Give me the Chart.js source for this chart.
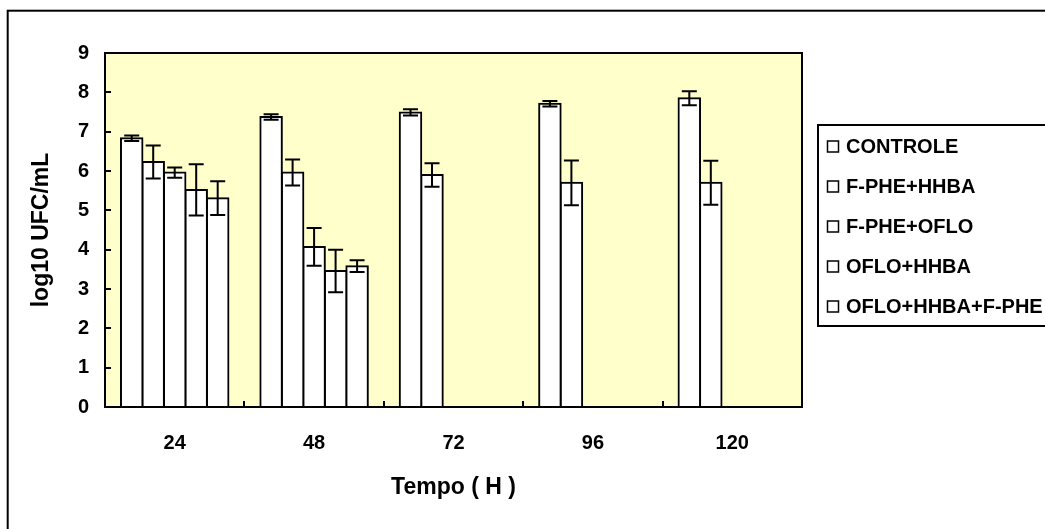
<!DOCTYPE html>
<html>
<head>
<meta charset="utf-8">
<script src="https://cdn.jsdelivr.net/npm/chart.js@4.4.1/dist/chart.umd.min.js"></script>
<style>
  body { margin: 0; background: #fff; }
</style>
</head>
<body>
<canvas id="grafico" width="1045" height="529"></canvas>
<script>
// dados (log10 UFC/mL)
const tempos = ['24', '48', '72', '96', '120'];

const controle     = [6.83, 7.37, 7.49, 7.71, 7.85];
const controleErro = [0.07, 0.07, 0.08, 0.07, 0.18];

const fpheHhba     = [6.23, 5.96, 5.90, 5.70, 5.70];
const fpheHhbaErro = [0.42, 0.33, 0.30, 0.57, 0.56];

const fpheOflo     = [5.96, 4.07, null, null, null];
const fpheOfloErro = [0.13, 0.48, null, null, null];

const ofloHhba     = [5.52, 3.46, null, null, null];
const ofloHhbaErro = [0.65, 0.54, null, null, null];

const ofloHhbaFphe     = [5.31, 3.58, null, null, null];
const ofloHhbaFpheErro = [0.43, 0.15, null, null, null];

const nomes = ['CONTROLE', 'F-PHE+HHBA', 'F-PHE+OFLO', 'OFLO+HHBA', 'OFLO+HHBA+F-PHE'];
const valores = [controle, fpheHhba, fpheOflo, ofloHhba, ofloHhbaFphe];
const erros = [controleErro, fpheHhbaErro, fpheOfloErro, ofloHhbaErro, ofloHhbaFpheErro];

const fonte = "'Liberation Sans', Arial, sans-serif";

// fundo branco, moldura externa e area amarela
const fundo = {
  id: 'fundo',
  beforeDraw(chart) {
    const ctx = chart.ctx, a = chart.chartArea;
    ctx.save();
    ctx.fillStyle = '#FFFFFF';
    ctx.fillRect(0, 0, chart.width, chart.height);
    ctx.strokeStyle = '#000';
    ctx.lineWidth = 2;
    ctx.strokeRect(7.7, 10.7, 2000, 2000);
    ctx.fillStyle = '#FFFFCC';
    ctx.fillRect(a.left, a.top, a.right - a.left, a.bottom - a.top);
    ctx.restore();
  }
};

// barras de erro + contorno da area
const barrasErro = {
  id: 'barrasErro',
  afterDatasetsDraw(chart) {
    const ctx = chart.ctx, y = chart.scales.y, a = chart.chartArea;
    ctx.save();
    ctx.strokeStyle = '#000';
    ctx.lineWidth = 2;
    erros.forEach((erro, i) => {
      const meta = chart.getDatasetMeta(i);
      erro.forEach((e, j) => {
        const v = valores[i][j];
        if (v == null || e == null) return;
        const x = meta.data[j].x;
        const y1 = y.getPixelForValue(v + e);
        const y2 = y.getPixelForValue(v - e);
        ctx.beginPath();
        ctx.moveTo(x, y1); ctx.lineTo(x, y2);
        ctx.moveTo(x - 7.5, y1); ctx.lineTo(x + 7.5, y1);
        ctx.moveTo(x - 7.5, y2); ctx.lineTo(x + 7.5, y2);
        ctx.stroke();
      });
    });
    ctx.strokeRect(a.left, a.top, a.right - a.left, a.bottom - a.top);
    ctx.restore();
  }
};

// legenda com moldura
const legenda = {
  id: 'legenda',
  afterDraw(chart) {
    const ctx = chart.ctx;
    ctx.save();
    ctx.strokeStyle = '#000';
    ctx.lineWidth = 2;
    ctx.strokeRect(818, 125, 300, 201);
    ctx.font = 'bold 20px ' + fonte;
    ctx.textBaseline = 'middle';
    ctx.textAlign = 'left';
    chart.data.datasets.forEach((ds, i) => {
      const cy = 147 + i * 40;
      ctx.fillStyle = '#FFFFFF';
      ctx.fillRect(827.5, cy - 6, 11, 11);
      ctx.lineWidth = 1.5;
      ctx.strokeRect(827.5, cy - 6, 11, 11);
      ctx.fillStyle = '#000';
      ctx.fillText(ds.label, 846, cy);
    });
    ctx.restore();
  }
};

const datasets = nomes.map((nome, i) => ({
  label: nome,
  data: valores[i],
  backgroundColor: '#FFFFFF',
  borderColor: '#000000',
  borderWidth: 2,
  borderSkipped: 'start',
  inflateAmount: 1,
  categoryPercentage: 0.771,
  barPercentage: 1.0
}));

new Chart(document.getElementById('grafico'), {
  type: 'bar',
  data: { labels: tempos, datasets: datasets },
  plugins: [fundo, barrasErro, legenda],
  options: {
    responsive: false,
    animation: false,
    events: [],
    layout: { padding: { left: 0, top: 53, right: 243, bottom: 0 } },
    plugins: {
      legend: { display: false },
      tooltip: { enabled: false }
    },
    scales: {
      x: {
        afterFit(s) { s.height = 122; },
        grid: { drawOnChartArea: false, drawTicks: true, tickLength: -6, color: '#000', lineWidth: 2 },
        border: { color: '#000', width: 2 },
        ticks: { color: '#000', padding: 30, font: { family: fonte, size: 20, weight: 'bold' } },
        title: {
          display: true, text: 'Tempo ( H )', color: '#000',
          padding: { top: 0, bottom: 28 },
          font: { family: fonte, size: 23, weight: 'bold' }
        }
      },
      y: {
        min: 0, max: 9,
        afterFit(s) { s.width = 105; },
        grid: { drawOnChartArea: false, drawTicks: true, tickLength: -6, color: '#000', lineWidth: 2 },
        border: { color: '#000', width: 2 },
        ticks: { stepSize: 1, color: '#000', padding: 22, font: { family: fonte, size: 20, weight: 'bold' } },
        title: {
          display: true, text: 'log10 UFC/mL', color: '#000',
          padding: { top: 28, bottom: 0 },
          font: { family: fonte, size: 23, weight: 'bold' }
        }
      }
    }
  }
});
</script>
</body>
</html>
